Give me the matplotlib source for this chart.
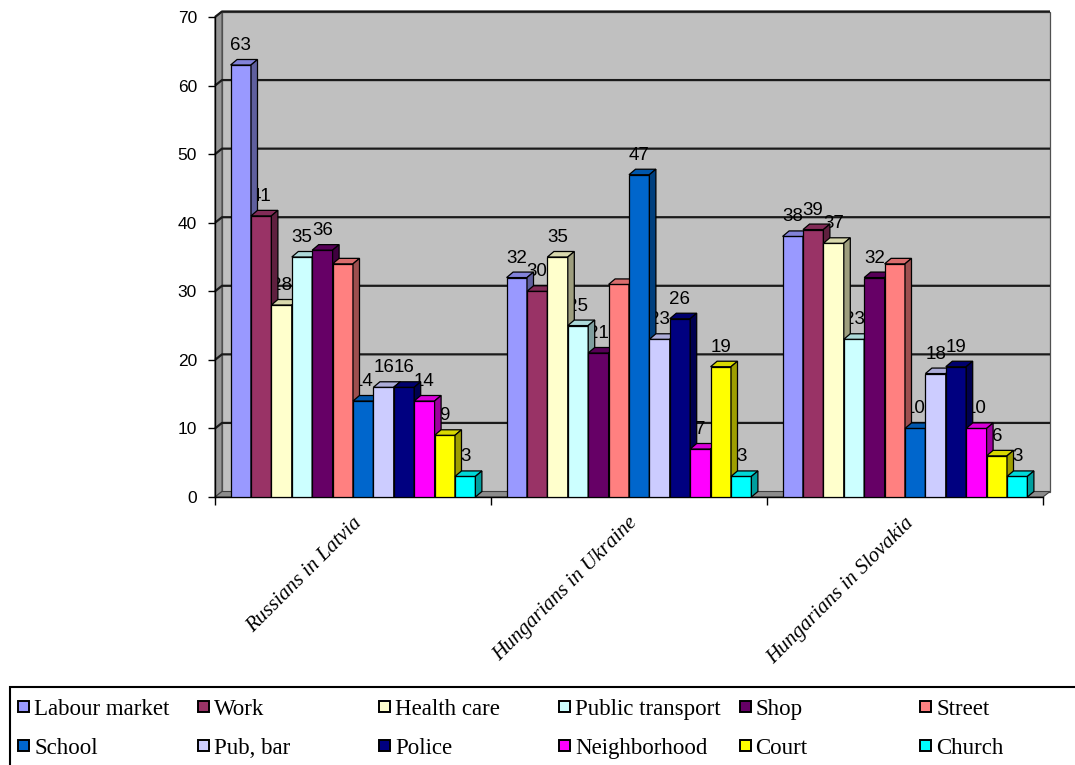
import matplotlib
matplotlib.use("Agg")
import matplotlib.pyplot as plt
import matplotlib.transforms as mtrans
from matplotlib.patches import Polygon, Rectangle
from matplotlib.colors import to_rgb

# ---------------- data ----------------
categories = ["Russians in Latvia", "Hungarians in Ukraine", "Hungarians in Slovakia"]
series = ["Labour market", "Work", "Health care", "Public transport", "Shop", "Street",
          "School", "Pub, bar", "Police", "Neighborhood", "Court", "Church"]
labour_market = [63, 32, 38]
work = [41, 30, 39]
health_care = [28, 35, 37]
public_transport = [35, 25, 23]
shop = [36, 21, 32]
street = [34, 31, 34]
school = [14, 47, 10]
pub_bar = [16, 23, 18]
police = [16, 26, 19]
neighborhood = [14, 7, 10]
court = [9, 19, 6]
church = [3, 3, 3]
values = [labour_market, work, health_care, public_transport, shop, street,
          school, pub_bar, police, neighborhood, court, church]
show_label = [True, True, True, True, True, False, True, True, True, True, True, True]
y_ticks = [0, 10, 20, 30, 40, 50, 60, 70]

colors = ["#9999FF", "#993366", "#FFFFCC", "#CCFFFF", "#660066", "#FF8080",
          "#0066CC", "#CCCCFF", "#000080", "#FF00FF", "#FFFF00", "#00FFFF"]

# ---------------- figure ----------------
W, H = 1075, 765
fig = plt.figure(figsize=(W / 100, H / 100), dpi=100)
ax_l, ax_r, ax_t, ax_b = 215, 1043, 17, 497
ax = fig.add_axes([ax_l / W, (H - ax_b) / H, (ax_r - ax_l) / W, (ax_b - ax_t) / H])
ax.set_xlim(0, 3)
ax.set_ylim(0, 70)
ax.patch.set_visible(False)

pxx = 3 / (ax_r - ax_l)      # data per pixel, x
pxy = 70 / (ax_b - ax_t)     # data per pixel, y
dx = 7 * pxx
dy = 5.5 * pxy
ymax = 70

def shade(c, f):
    r, g, b = to_rgb(c)
    return (r * f, g * f, b * f)

# walls
ax.add_patch(Polygon([(dx, dy), (3 + dx, dy), (3 + dx, ymax + dy), (dx, ymax + dy)],
                     closed=True, facecolor="#C0C0C0", edgecolor="#505050", lw=0.9,
                     zorder=0.5, clip_on=False))
ax.add_patch(Polygon([(0, 0), (dx, dy), (dx, ymax + dy), (0, ymax)],
                     closed=True, facecolor="#959595", edgecolor="#505050", lw=0.9,
                     zorder=0.6, clip_on=False))
ax.add_patch(Polygon([(0, 0), (3, 0), (3 + dx, dy), (dx, dy)],
                     closed=True, facecolor="#8C8C8C", edgecolor="#404040", lw=0.8,
                     zorder=0.7, clip_on=False))
# gridlines on back wall
for v in y_ticks[1:]:
    ax.plot([0, dx, 3 + dx], [v, v + dy, v + dy], color="#1A1A1A", lw=1.6,
            zorder=1, clip_on=False, solid_capstyle="butt")

# bars
n = len(series)
w = 20.4 * pxx
bdx = 6.5 * pxx
bdy = 5.5 * pxy
for i, (name, vals, col) in enumerate(zip(series, values, colors)):
    xs = [j + 0.5 - n / 2 * w + i * w for j in range(len(categories))]
    z = 3 + 0.02 * i
    ax.bar(xs, vals, width=w, align="edge", color=col, edgecolor="black",
           lw=0.9, zorder=z, label=name)
    for x0, v in zip(xs, vals):
        top = [(x0, v), (x0 + w, v), (x0 + w + bdx, v + bdy), (x0 + bdx, v + bdy)]
        side = [(x0 + w, 0), (x0 + w + bdx, bdy), (x0 + w + bdx, v + bdy), (x0 + w, v)]
        ax.add_patch(Polygon(top, closed=True, facecolor=shade(col, 0.85),
                             edgecolor="black", lw=0.9, zorder=z + 0.01, clip_on=False))
        ax.add_patch(Polygon(side, closed=True, facecolor=shade(col, 0.62),
                             edgecolor="black", lw=0.9, zorder=z + 0.01, clip_on=False))
        if show_label[i]:
            ax.text(x0 + w / 2, v + 15 * pxy, f"{v}", ha="center", va="baseline",
                    fontsize=13.5, family="Liberation Sans", color="black",
                    zorder=2, clip_on=False)

# axes styling
for s in ["top", "right"]:
    ax.spines[s].set_visible(False)
for s in ["left", "bottom"]:
    ax.spines[s].set_color("black")
    ax.spines[s].set_linewidth(1.0)
ax.spines["left"].set_zorder(2.8)
ax.set_yticks(y_ticks)
ax.set_yticklabels([str(t) for t in y_ticks], fontsize=12.5, family="Liberation Sans")
ax.tick_params(axis="y", direction="out", length=5, width=1, pad=8)
ax.set_xticks([0, 1, 2, 3])
ax.set_xticklabels([])
ax.tick_params(axis="x", which="major", direction="out", length=6, width=1)
ax.set_xticks([0.5, 1.5, 2.5], minor=True)
ax.set_xticklabels(categories, minor=True, rotation=45, ha="right",
                   rotation_mode="anchor", fontsize=15, family="Liberation Serif",
                   style="italic")
ax.tick_params(axis="x", which="minor", length=0, pad=12)
offset = mtrans.ScaledTranslation(-1 / 100, 0, fig.dpi_scale_trans)
for lab in ax.get_xticklabels(minor=True):
    lab.set_transform(lab.get_transform() + offset)

# legend (box drawn in figure pixels, Excel-like equal column widths)
fig.patches.append(Rectangle((10 / W, -0.05), 1.1, (H - 687) / H + 0.05,
                             transform=fig.transFigure, facecolor="white",
                             edgecolor="black", lw=1.5, zorder=0))
col_x0, col_step = 18, 180.4
row_base = [715, 754]
for k, (name, col) in enumerate(zip(series, colors)):
    r, c = divmod(k, 6)
    x = col_x0 + c * col_step
    yb = row_base[r]
    fig.patches.append(Rectangle((x / W, (H - (yb - 3)) / H), 11 / W, 11 / H,
                                 transform=fig.transFigure, facecolor=col,
                                 edgecolor="black", lw=1.4, zorder=2))
    fig.text((x + 16) / W, (H - yb) / H, name, ha="left", va="baseline",
             fontsize=16.5, family="Liberation Serif", color="black")

fig.savefig("out.png", dpi=100, facecolor="white")
